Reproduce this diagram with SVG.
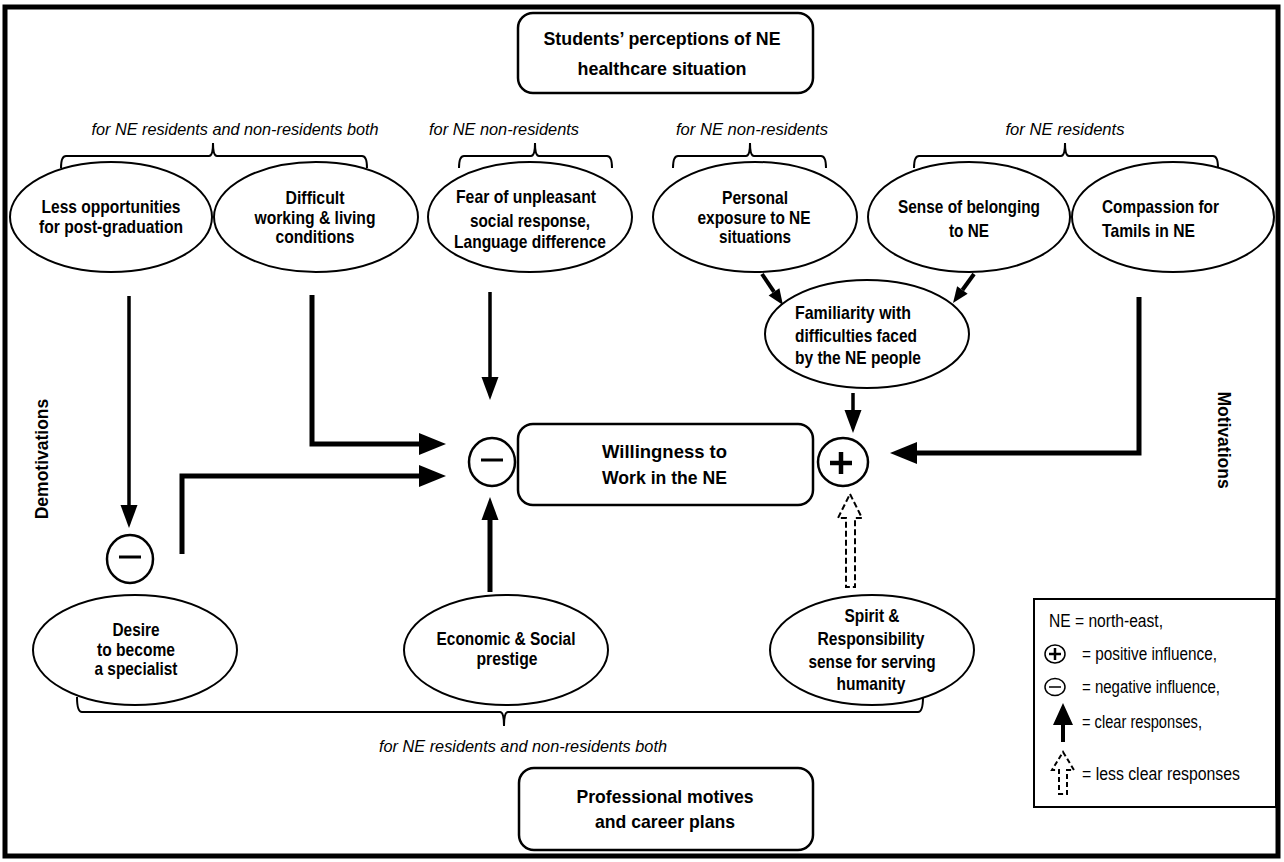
<svg xmlns="http://www.w3.org/2000/svg" width="1284" height="862" viewBox="0 0 1284 862">
<style>
  .frame{fill:none;stroke:#000;stroke-width:5}
  .box{fill:#fff;stroke:#000;stroke-width:2.5}
  .ell{fill:#fff;stroke:#000;stroke-width:2}
  .t{font-family:"Liberation Sans Narrow","Arial Narrow","Liberation Sans",sans-serif;font-weight:bold;font-size:18.5px;fill:#000}
  .c{text-anchor:middle}
  .it{font-family:"Liberation Sans Narrow","Arial Narrow","Liberation Sans",sans-serif;font-style:italic;font-size:16.5px;fill:#000}
  .lg{font-family:"Liberation Sans Narrow","Arial Narrow","Liberation Sans",sans-serif;font-size:17.5px;fill:#000}
  .side{font-family:"Liberation Sans",Arial,sans-serif;font-weight:bold;font-size:17.5px;fill:#000;text-anchor:middle}
  .br{fill:none;stroke:#000;stroke-width:2}
  .thin{fill:none;stroke:#000;stroke-width:3.5}
  .thick{fill:none;stroke:#000;stroke-width:5;stroke-linejoin:miter}
  .diag{fill:none;stroke:#000;stroke-width:4}
  .sign{fill:none;stroke:#000;stroke-width:3}
  .dash{fill:#fff;stroke:#000;stroke-width:2;stroke-dasharray:6 3}
</style>
<defs>
  <marker id="ahThin" markerUnits="userSpaceOnUse" markerWidth="23" markerHeight="17" refX="0" refY="8.5" orient="auto" overflow="visible">
    <path d="M0,0 L23,8.5 L0,17 Z" fill="#000"/>
  </marker>
  <marker id="ahThick" markerUnits="userSpaceOnUse" markerWidth="27" markerHeight="22" refX="0" refY="11" orient="auto" overflow="visible">
    <path d="M0,0 L27,11 L0,22 Z" fill="#000"/>
  </marker>
  <marker id="ahSmall" markerUnits="userSpaceOnUse" markerWidth="16" markerHeight="13" refX="0" refY="6.5" orient="auto" overflow="visible">
    <path d="M0,0 L16,6.5 L0,13 Z" fill="#000"/>
  </marker>
</defs>
<rect x="0" y="0" width="1284" height="862" fill="#fff"/>
<rect class="frame" x="5" y="7" width="1273" height="849"/>

<g id="side-labels">
  <text class="side" transform="translate(48,459) rotate(-90)">Demotivations</text>
  <text class="side" transform="translate(1218,440) rotate(90)">Motivations</text>
</g>

<g id="n-perceptions">
  <rect class="box" x="518" y="13" width="295" height="80" rx="15"/>
  <text class="t c" x="662" y="45" textLength="237" lengthAdjust="spacingAndGlyphs">Students’ perceptions of NE</text>
  <text class="t c" x="662" y="75" textLength="169" lengthAdjust="spacingAndGlyphs">healthcare situation</text>
</g>

<g id="group-labels">
  <text class="it c" x="235" y="135" textLength="287" lengthAdjust="spacingAndGlyphs">for NE residents and non-residents both</text>
  <text class="it c" x="504" y="135" textLength="150" lengthAdjust="spacingAndGlyphs">for NE non-residents</text>
  <text class="it c" x="752" y="135" textLength="152" lengthAdjust="spacingAndGlyphs">for NE non-residents</text>
  <text class="it c" x="1065" y="135" textLength="119" lengthAdjust="spacingAndGlyphs">for NE residents</text>
  <text class="it c" x="523" y="752" textLength="288" lengthAdjust="spacingAndGlyphs">for NE residents and non-residents both</text>
  <path class="br" d="M61,168 Q61,156 66,156 L209,156 Q213,156 213,143 Q213,156 217,156 L362,156 Q367,156 367,168"/>
  <path class="br" d="M459,168 Q459,156 464,156 L531,156 Q535,156 535,143 Q535,156 539,156 L607,156 Q612,156 612,168"/>
  <path class="br" d="M673,168 Q673,156 678,156 L746,156 Q750,156 750,143 Q750,156 754,156 L821,156 Q826,156 826,168"/>
  <path class="br" d="M914,168 Q914,156 919,156 L1061,156 Q1065,156 1065,143 Q1065,156 1069,156 L1213,156 Q1218,156 1218,168"/>
  <path class="br" d="M77,697 Q77,712 82,712 L500,712 Q504,712 504,726 Q504,712 508,712 L918,712 Q923,712 923,697"/>
</g>

<g id="n-less-opp">
  <ellipse class="ell" cx="111" cy="217" rx="101" ry="55"/>
  <text class="t c" x="111" y="213" textLength="139" lengthAdjust="spacingAndGlyphs">Less opportunities</text>
  <text class="t c" x="111" y="233" textLength="144" lengthAdjust="spacingAndGlyphs">for post-graduation</text>
</g>
<g id="n-difficult">
  <ellipse class="ell" cx="316" cy="217" rx="102" ry="55"/>
  <text class="t c" x="315" y="204" textLength="59" lengthAdjust="spacingAndGlyphs">Difficult</text>
  <text class="t c" x="315" y="224" textLength="121" lengthAdjust="spacingAndGlyphs">working &amp; living</text>
  <text class="t c" x="315" y="243" textLength="79" lengthAdjust="spacingAndGlyphs">conditions</text>
</g>
<g id="n-fear">
  <ellipse class="ell" cx="530" cy="217" rx="102" ry="55"/>
  <text class="t c" x="526" y="203" textLength="140" lengthAdjust="spacingAndGlyphs">Fear of unpleasant</text>
  <text class="t c" x="530" y="227" textLength="120" lengthAdjust="spacingAndGlyphs">social response,</text>
  <text class="t c" x="530" y="248" textLength="152" lengthAdjust="spacingAndGlyphs">Language difference</text>
</g>
<g id="n-personal">
  <ellipse class="ell" cx="755" cy="217" rx="102" ry="55"/>
  <text class="t c" x="755" y="204" textLength="66" lengthAdjust="spacingAndGlyphs">Personal</text>
  <text class="t c" x="754" y="224" textLength="113" lengthAdjust="spacingAndGlyphs">exposure to NE</text>
  <text class="t c" x="755" y="243" textLength="72" lengthAdjust="spacingAndGlyphs">situations</text>
</g>
<g id="n-belonging">
  <ellipse class="ell" cx="969" cy="217" rx="101" ry="55"/>
  <text class="t c" x="969" y="213" textLength="142" lengthAdjust="spacingAndGlyphs">Sense of belonging</text>
  <text class="t c" x="969" y="237" textLength="40" lengthAdjust="spacingAndGlyphs">to NE</text>
</g>
<g id="n-compassion">
  <ellipse class="ell" cx="1173" cy="217" rx="101" ry="55"/>
  <text class="t" x="1102" y="213" textLength="117" lengthAdjust="spacingAndGlyphs">Compassion for</text>
  <text class="t" x="1102" y="237" textLength="93" lengthAdjust="spacingAndGlyphs">Tamils in NE</text>
</g>
<g id="n-familiarity">
  <ellipse class="ell" cx="867" cy="334" rx="102" ry="54"/>
  <text class="t" x="795" y="319" textLength="116" lengthAdjust="spacingAndGlyphs">Familiarity  with</text>
  <text class="t" x="795" y="342" textLength="122" lengthAdjust="spacingAndGlyphs">difficulties faced</text>
  <text class="t" x="795" y="364" textLength="126" lengthAdjust="spacingAndGlyphs">by the NE people</text>
</g>
<g id="n-willingness">
  <rect class="box" x="518" y="424" width="295" height="81" rx="15"/>
  <text class="t" x="602" y="458" textLength="125" lengthAdjust="spacingAndGlyphs">Willingness  to</text>
  <text class="t" x="602" y="484" textLength="125" lengthAdjust="spacingAndGlyphs">Work in the NE</text>
</g>
<g id="n-negative-center">
  <ellipse class="ell" cx="492" cy="462" rx="23" ry="24" style="stroke-width:2.5"/>
  <line class="sign" x1="481" y1="460" x2="503" y2="460"/>
</g>
<g id="n-positive-center">
  <ellipse class="ell" cx="843" cy="462" rx="25" ry="24" style="stroke-width:2.5"/>
  <line x1="841" y1="452" x2="841" y2="474" stroke="#000" stroke-width="4.5"/>
  <line x1="830" y1="463" x2="852" y2="463" stroke="#000" stroke-width="4.5"/>
</g>
<g id="n-negative-left">
  <ellipse class="ell" cx="130" cy="559" rx="23" ry="24" style="stroke-width:2.5"/>
  <line class="sign" x1="119" y1="557" x2="141" y2="557"/>
</g>
<g id="n-desire">
  <ellipse class="ell" cx="135" cy="650" rx="102" ry="55"/>
  <text class="t c" x="136" y="636" textLength="47" lengthAdjust="spacingAndGlyphs">Desire</text>
  <text class="t c" x="136" y="656" textLength="78" lengthAdjust="spacingAndGlyphs">to become</text>
  <text class="t c" x="136" y="675" textLength="83" lengthAdjust="spacingAndGlyphs">a specialist</text>
</g>
<g id="n-economic">
  <ellipse class="ell" cx="506" cy="650" rx="102" ry="55"/>
  <text class="t c" x="506" y="645" textLength="139" lengthAdjust="spacingAndGlyphs">Economic &amp; Social</text>
  <text class="t c" x="507" y="665" textLength="61" lengthAdjust="spacingAndGlyphs">prestige</text>
</g>
<g id="n-spirit">
  <ellipse class="ell" cx="872" cy="650" rx="102" ry="55"/>
  <text class="t c" x="872" y="622" textLength="55" lengthAdjust="spacingAndGlyphs">Spirit &amp;</text>
  <text class="t c" x="871" y="645" textLength="107" lengthAdjust="spacingAndGlyphs">Responsibility</text>
  <text class="t c" x="872" y="668" textLength="127" lengthAdjust="spacingAndGlyphs">sense for serving</text>
  <text class="t c" x="871" y="690" textLength="69" lengthAdjust="spacingAndGlyphs">humanity</text>
</g>
<g id="n-professional">
  <rect class="box" x="519" y="768" width="294" height="82" rx="15"/>
  <text class="t c" x="665" y="803" textLength="177" lengthAdjust="spacingAndGlyphs">Professional motives</text>
  <text class="t c" x="665" y="828" textLength="140" lengthAdjust="spacingAndGlyphs">and career plans</text>
</g>

<g id="connectors">
  <path class="thin" d="M129,296 V505" marker-end="url(#ahThin)"/>
  <path class="thick" d="M312,295 V444 H419" marker-end="url(#ahThick)"/>
  <path class="thick" d="M182,554 V476 H419" marker-end="url(#ahThick)"/>
  <path class="thin" d="M490,292 V377" marker-end="url(#ahThin)"/>
  <path class="thick" d="M490,592 V520" marker-end="url(#ahThin)"/>
  <path class="diag" d="M762,274 L774,291.8" marker-end="url(#ahSmall)"/>
  <path class="diag" d="M974,274 L962.4,290" marker-end="url(#ahSmall)"/>
  <path class="thin" d="M853,393 V410" marker-end="url(#ahThin)"/>
  <path class="thick" d="M1139,297 V453 H917" marker-end="url(#ahThick)"/>
  <path class="dash" d="M850,494 L862,518 L855,518 L855,587 L846,587 L846,518 L838,518 Z"/>
</g>

<g id="legend">
  <rect x="1034" y="599" width="242" height="208" fill="#fff" stroke="#000" stroke-width="2"/>
  <text class="lg" x="1049" y="627" textLength="114" lengthAdjust="spacingAndGlyphs">NE = north-east,</text>
  <ellipse cx="1055" cy="654" rx="10" ry="9" fill="#fff" stroke="#000" stroke-width="1.5"/>
  <line x1="1055" y1="648" x2="1055" y2="660" stroke="#000" stroke-width="2.5"/>
  <line x1="1049" y1="654" x2="1061" y2="654" stroke="#000" stroke-width="2.5"/>
  <text class="lg" x="1082" y="660" textLength="135" lengthAdjust="spacingAndGlyphs">= positive influence,</text>
  <ellipse cx="1055" cy="687" rx="10" ry="8.5" fill="#fff" stroke="#000" stroke-width="1.5"/>
  <line x1="1049" y1="687" x2="1061" y2="687" stroke="#000" stroke-width="1.5"/>
  <text class="lg" x="1082" y="693" textLength="138" lengthAdjust="spacingAndGlyphs">= negative influence,</text>
  <path d="M1063,703 L1073,725 L1065,725 L1065,742 L1061,742 L1061,725 L1053,725 Z" fill="#000"/>
  <text class="lg" x="1082" y="728" textLength="120" lengthAdjust="spacingAndGlyphs">= clear responses,</text>
  <path class="dash" d="M1063,752 L1074,770 L1067,770 L1067,794 L1059,794 L1059,770 L1052,770 Z" style="stroke-dasharray:5 3"/>
  <text class="lg" x="1082" y="780" textLength="158" lengthAdjust="spacingAndGlyphs">= less clear responses</text>
</g>
</svg>
